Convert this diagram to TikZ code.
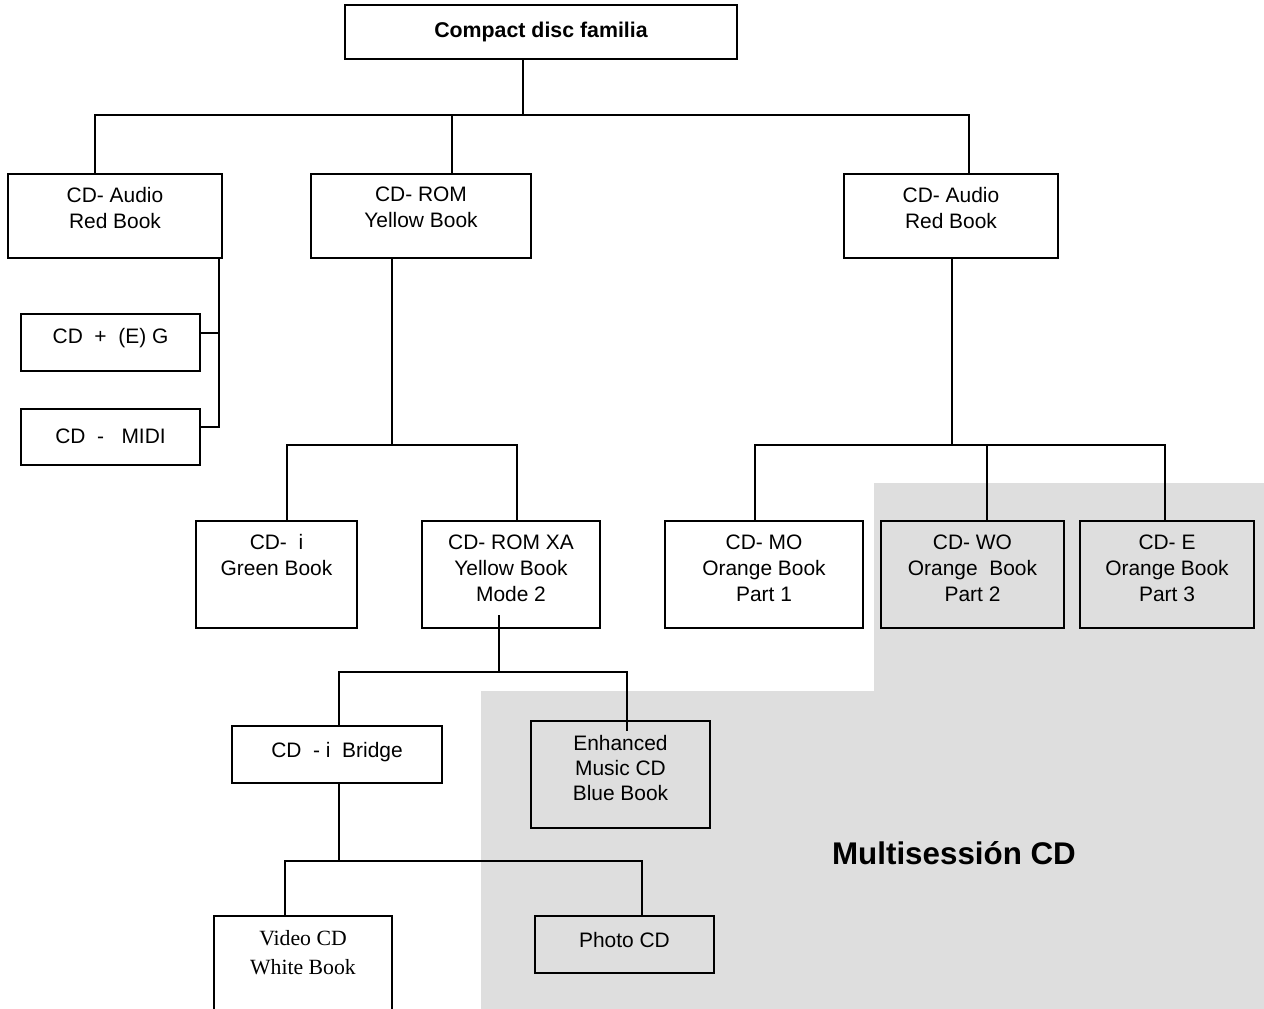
\documentclass[tikz,border=0pt]{standalone}
\usepackage{fontspec}
\setmainfont{Liberation Sans}
\newfontfamily\serifface{Liberation Serif}
\usetikzlibrary{calc}

% one pixel of the drawing grid
\newlength\pxu
\setlength\pxu{0.75pt}
\definecolor{multibg}{RGB}{222,222,222}

% box body: width, height, depth of first baseline below the top, lines
\newcommand\cellbox[4]{\parbox[c][#2\pxu][t]{#1\pxu}{\centering\rule{0pt}{#3\pxu}#4\par}}

\tikzset{
  cell/.style={draw, line width=1.5pt, fill=white, inner sep=0pt, outer sep=0pt,
    anchor=north west, font=\fontsize{15.7}{19.5}\selectfont},
  shaded/.style={cell, fill=multibg},
  link/.style={line width=1.5pt},
}

\begin{document}
\begin{tikzpicture}[x=0.75pt, y=-0.75pt]
\useasboundingbox (0,0) rectangle (1264,1009);
\clip (0,0) rectangle (1264,1009);

% multisession area
\fill[multibg] (874,483) -- (1264,483) -- (1264,1009) -- (481,1009)
  -- (481,691) -- (874,691) -- cycle;

% boxes
\node[cell, font=\bfseries\fontsize{16}{19.5}\selectfont] (title) at (345,5)
  {\cellbox{392}{54}{33}{Compact disc familia}};

\node[cell] (audioL) at (8,174) {\cellbox{214}{84}{29}{CD- Audio\\Red Book}};
\node[cell] (rom) at (311,174) {\cellbox{220}{84}{28}{CD- ROM\\Yellow Book}};
\node[cell] (audioR) at (844,174) {\cellbox{214}{84}{29}{CD- Audio\\Red Book}};

\node[cell] (eg) at (21,314) {\cellbox{179}{57}{30}{CD\ \ +\ \ (E) G}};
\node[cell] (midi) at (21,409) {\cellbox{179}{56}{34}{CD\ \ -\ \ \ MIDI}};

\node[cell] (cdi) at (196,521) {\cellbox{161}{107}{28}{CD-\ \ i\\Green Book}};
\node[cell] (xa) at (422,521) {\cellbox{178}{107}{28}{CD- ROM XA\\Yellow Book\\Mode 2}};
\node[cell] (mo) at (665,521) {\cellbox{198}{107}{28}{CD-\ MO\\Orange Book\\Part 1}};
\node[shaded] (wo) at (881,521) {\cellbox{183}{107}{28}{CD- WO\\Orange\ \ Book\\Part 2}};
\node[shaded] (cde) at (1080,521) {\cellbox{174}{107}{28}{CD-\ E\\Orange Book\\Part 3}};

\node[cell] (bridge) at (232,726) {\cellbox{210}{57}{31}{CD\ \ - i\ \ Bridge}};
\node[shaded] (enh) at (531,721) {\cellbox{179}{107}{29}{\fontsize{15.7}{18.75}\selectfont Enhanced\\Music CD\\Blue Book}};

\node[cell] (video) at (214,916) {\cellbox{178}{130}{29}{\serifface\fontsize{16.3}{21.75}\selectfont Video CD\\White Book}};
\node[shaded] (photo) at (535,916) {\cellbox{179}{57}{31}{Photo CD}};

\node[font=\bfseries\fontsize{23.5}{28}\selectfont, anchor=base] (multi) at (954,864) {Multisessión CD};

% connectors
\draw[link] (title.south -| 523,0) -- (523,115) coordinate (busA);
\draw[link] (audioL.north -| 95,0) |- (969,115) -- (audioR.north -| 969,0);
\draw[link] (rom.north -| 452,0) -- (452,115);

\draw[link] (audioL.south -| 219,0) |- (midi.east |- 0,427);
\draw[link] (eg.east |- 0,333) -- (219,333);

\draw[link] (rom.south -| 392,0) -- (392,445);
\draw[link] (cdi.north -| 287,0) |- (517,445) -- (xa.north -| 517,0);

\draw[link] (audioR.south -| 952,0) -- (952,445);
\draw[link] (mo.north -| 755,0) |- (1165,445) -- (cde.north -| 1165,0);
\draw[link] (wo.north -| 987,0) -- (987,445);

\draw[link] (xa.south -| 499,0) ++(0,-13) -- (499,672);
\draw[link] (bridge.north -| 339,0) |- (627,672) -- ($(enh.north -| 627,0)+(0,10)$);

\draw[link] (bridge.south -| 339,0) -- (339,861);
\draw[link] (video.north -| 285,0) |- (642,861) -- (photo.north -| 642,0);
\end{tikzpicture}
\end{document}
